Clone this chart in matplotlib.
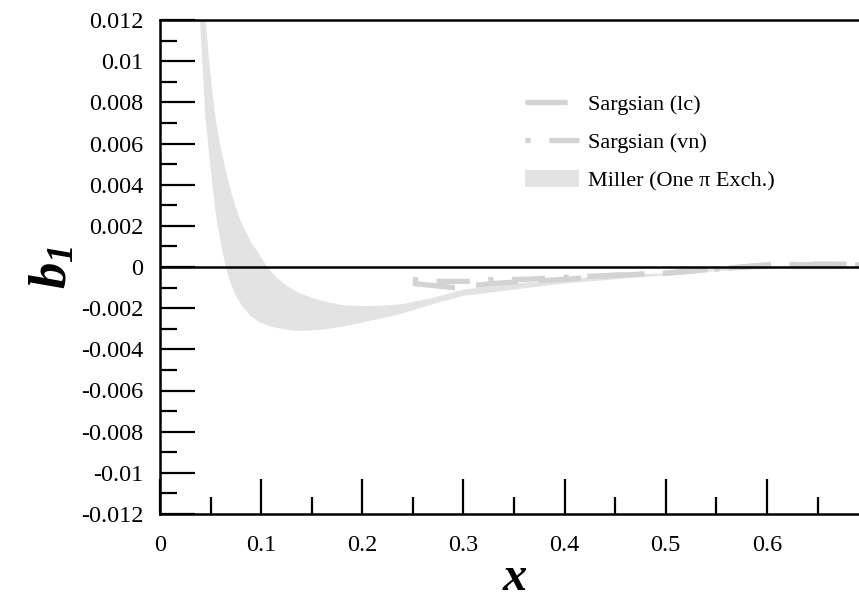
import matplotlib
matplotlib.use('Agg')
import matplotlib.pyplot as plt
from matplotlib.ticker import MultipleLocator, FixedFormatter, FixedLocator

plt.rcParams['font.family'] = 'Liberation Serif'
plt.rcParams['mathtext.fontset'] = 'custom'
plt.rcParams['mathtext.it'] = 'Liberation Serif:italic:bold'
plt.rcParams['mathtext.rm'] = 'Liberation Serif:italic:bold'

# Miller (One pi Exch.) band: lower (outer) and upper (inner) edges
low_x = [0.038, 0.0395, 0.045, 0.050, 0.055, 0.060, 0.065, 0.070, 0.075, 0.082, 0.090,
         0.099, 0.110, 0.120, 0.132, 0.145, 0.160, 0.180, 0.200, 0.237, 0.270, 0.300,
         0.350, 0.400, 0.450, 0.500, 0.550, 0.600]
low_y = [0.0128, 0.0120, 0.0072, 0.0048, 0.0026, 0.0012, 0.0000, -0.0008, -0.0014, -0.00195, -0.0024,
         -0.0027, -0.0029, -0.0030, -0.0031, -0.0031, -0.00305, -0.0029, -0.0027, -0.0023, -0.0018, -0.0014,
         -0.0011, -0.0008, -0.0006, -0.0004, -0.0002, -0.0001]
high_x = [0.042, 0.045, 0.050, 0.055, 0.060, 0.065, 0.070, 0.075, 0.080, 0.085, 0.090,
          0.097, 0.106, 0.115, 0.125, 0.135, 0.150, 0.165, 0.180, 0.200, 0.220, 0.240,
          0.270, 0.300, 0.350, 0.400, 0.450, 0.500, 0.550, 0.600]
high_y = [0.0142, 0.0120, 0.0093, 0.0072, 0.0058, 0.0047, 0.0037, 0.0029, 0.0022, 0.0017, 0.0012,
          0.0007, 0.0000, -0.0005, -0.0009, -0.0012, -0.0015, -0.0017, -0.00185, -0.0019, -0.00188, -0.0018,
          -0.0015, -0.0011, -0.0008, -0.0006, -0.0004, -0.0003, -0.0001, 0.0000]

# Sargsian (lc)
lc_x = [0.25, 0.27, 0.29, 0.31, 0.33, 0.36, 0.40, 0.45, 0.50, 0.55, 0.60, 0.65, 0.70]
lc_y = [-0.0008, -0.0009, -0.0010, -0.0009, -0.0008, -0.0007, -0.0006, -0.0004, -0.0003,
        -0.0001, 0.0001, 0.00012, 0.0001]
# Sargsian (vn)
vn_x = [0.25, 0.27, 0.29, 0.31, 0.33, 0.36, 0.40, 0.45, 0.50, 0.55, 0.60, 0.65, 0.70]
vn_y = [-0.0006, -0.0007, -0.0007, -0.0007, -0.0006, -0.0006, -0.0005, -0.0004, -0.0003,
        -0.0001, 0.0001, 0.00015, 0.00012]

ytick_vals = [-0.012, -0.01, -0.008, -0.006, -0.004, -0.002, 0, 0.002, 0.004, 0.006, 0.008, 0.01, 0.012]
ytick_labels = ['-0.012', '-0.01', '-0.008', '-0.006', '-0.004', '-0.002', '0',
                '0.002', '0.004', '0.006', '0.008', '0.01', '0.012']
xtick_vals = [0, 0.1, 0.2, 0.3, 0.4, 0.5, 0.6]
xtick_labels = ['0', '0.1', '0.2', '0.3', '0.4', '0.5', '0.6']

fig = plt.figure(figsize=(8.59, 5.97), dpi=100)
ax = fig.add_axes([160 / 859, 1 - 514 / 597, 1 - 160 / 859, (514 - 20) / 597])

ax.fill(low_x + high_x[::-1], low_y + high_y[::-1], color='#e3e3e3', lw=0,
        label='Miller (One \u03c0 Exch.)')
ax.plot(lc_x, lc_y, color='#d3d3d3', lw=3.8, linestyle=(0, (8, 4)), label='Sargsian (lc)')
ax.plot(vn_x, vn_y, color='#d3d3d3', lw=3.8, linestyle=(0, (1, 3.5, 6.3, 3.5)),
        label='Sargsian (vn)')
ax.axhline(0, color='black', lw=1.8)

ax.set_xlim(0, 0.691)
ax.set_ylim(-0.012, 0.012)

ax.yaxis.set_major_locator(FixedLocator(ytick_vals))
ax.yaxis.set_major_formatter(FixedFormatter(ytick_labels))
ax.yaxis.set_minor_locator(MultipleLocator(0.001))
ax.xaxis.set_major_locator(FixedLocator(xtick_vals))
ax.xaxis.set_major_formatter(FixedFormatter(xtick_labels))
ax.xaxis.set_minor_locator(MultipleLocator(0.05))

ax.tick_params(which='both', direction='in', width=1.6, labelsize=17.5, top=False, right=False)
ax.tick_params(which='major', length=25)
ax.tick_params(which='minor', length=12.5)
ax.tick_params(axis='y', pad=12)
ax.tick_params(axis='x', pad=15)
for s in ['left', 'bottom', 'top']:
    ax.spines[s].set_linewidth(1.8)
ax.spines['right'].set_visible(False)

handles, labels = ax.get_legend_handles_labels()
order = [1, 2, 0]
fig.legend([handles[i] for i in order], [labels[i] for i in order],
           loc='upper left', bbox_to_anchor=(525 / 859, 1 - 94 / 597), frameon=False,
           fontsize=16, handlelength=2.45, handleheight=0.8, handletextpad=0.4,
           labelspacing=0.75, borderpad=0, borderaxespad=0)

fig.text(515 / 859, 1 - 590 / 597, r'$x$', fontsize=35,
         ha='center', va='baseline')
fig.text(67 / 859, 1 - 267 / 597, r'$b_{1}$', fontsize=38, rotation=90,
         rotation_mode='anchor', ha='center', va='baseline')

fig.savefig('out.png', dpi=100)
